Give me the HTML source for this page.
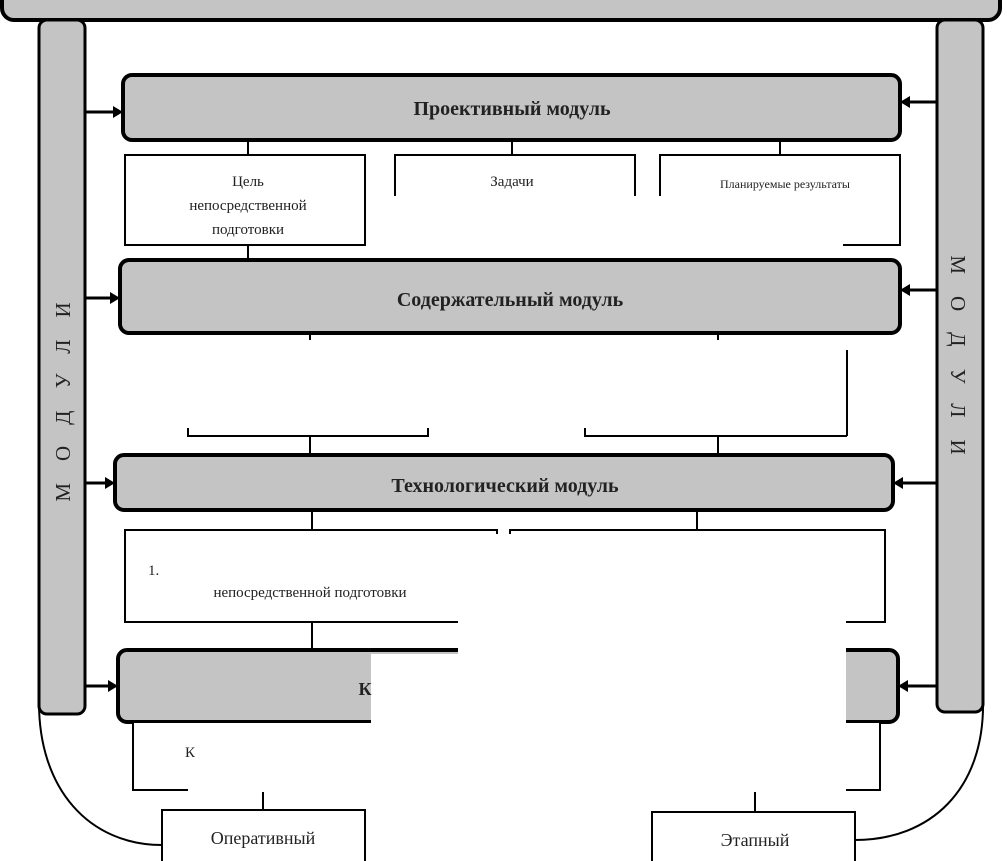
<!DOCTYPE html>
<html><head><meta charset="utf-8"><style>
body{margin:0;background:#fff;}
svg{display:block;font-family:"Liberation Serif",serif;}
</style></head><body>
<svg width="1007" height="861" viewBox="0 0 1007 861" xmlns="http://www.w3.org/2000/svg">
<g stroke="#000" fill="none">
<rect x="2" y="-30" width="998" height="50" rx="12" fill="#c4c4c4" stroke-width="4"/>
<rect x="39" y="20" width="46" height="694" rx="8" fill="#c4c4c4" stroke-width="3"/>
<rect x="937" y="20" width="46" height="692" rx="8" fill="#c4c4c4" stroke-width="3"/>
<path d="M39 700 C38 790 90 845 162 845" stroke-width="2"/>
<path d="M983 700 C985 790 930 840 855 840" stroke-width="2"/>
<g stroke-width="3">
<line x1="85" y1="112" x2="116" y2="112"/><line x1="937" y1="102" x2="907" y2="102"/>
<line x1="85" y1="298" x2="113" y2="298"/><line x1="937" y1="290" x2="907" y2="290"/>
<line x1="85" y1="483" x2="108" y2="483"/><line x1="937" y1="483" x2="900" y2="483"/>
<line x1="85" y1="686" x2="111" y2="686"/><line x1="937" y1="686" x2="905" y2="686"/>
</g>
<g fill="#000" stroke="none">
<polygon points="123,112 113,106 113,118"/><polygon points="900,102 910,96 910,108"/>
<polygon points="120,298 110,292 110,304"/><polygon points="900,290 910,284 910,296"/>
<polygon points="115,483 105,477 105,489"/><polygon points="893,483 903,477 903,489"/>
<polygon points="118,686 108,680 108,692"/><polygon points="898,686 908,680 908,692"/>
</g>
<g stroke-width="2">
<line x1="248" y1="140" x2="248" y2="155"/><line x1="512" y1="140" x2="512" y2="155"/><line x1="780" y1="140" x2="780" y2="155"/>
<line x1="248" y1="245" x2="248" y2="260"/>
<line x1="310" y1="333" x2="310" y2="340"/><line x1="718" y1="333" x2="718" y2="340"/>
<line x1="847" y1="350" x2="847" y2="436"/>
<polyline points="188,428 188,436 428,436 428,428"/>
<polyline points="585,428 585,436 847,436"/>
<line x1="310" y1="436" x2="310" y2="455"/><line x1="718" y1="436" x2="718" y2="455"/>
<line x1="312" y1="510" x2="312" y2="530"/><line x1="697" y1="510" x2="697" y2="530"/>
<line x1="312" y1="622" x2="312" y2="650"/>
<line x1="263" y1="790" x2="263" y2="810"/><line x1="755" y1="790" x2="755" y2="812"/>
</g>
<rect x="123" y="75" width="777" height="65" rx="9" fill="#c4c4c4" stroke-width="4"/>
<rect x="120" y="260" width="780" height="73" rx="9" fill="#c4c4c4" stroke-width="4"/>
<rect x="115" y="455" width="778" height="55" rx="9" fill="#c4c4c4" stroke-width="4"/>
<rect x="118" y="650" width="780" height="72" rx="9" fill="#c4c4c4" stroke-width="4"/>
<g fill="#fff" stroke-width="2">
<rect x="125" y="155" width="240" height="90"/>
<rect x="395" y="155" width="240" height="90"/>
<rect x="660" y="155" width="240" height="90"/>
<rect x="125" y="530" width="372" height="92"/>
<rect x="510" y="530" width="375" height="92"/>
<rect x="133" y="722" width="747" height="68"/>
<rect x="162" y="810" width="203" height="55"/>
<rect x="652" y="812" width="203" height="55"/>
</g>
</g>
<g fill="#fff">
<rect x="368" y="196" width="475" height="62"/>
<rect x="458" y="534" width="388" height="120"/>
<rect x="371" y="654" width="475" height="70"/>
<rect x="188" y="724" width="658" height="68"/>
</g>
<g font-size="20" font-weight="bold" text-anchor="middle" fill="#222">
<text x="512" y="115">Проективный модуль</text>
<text x="510" y="306">Содержательный модуль</text>
<text x="505" y="492">Технологический модуль</text>
</g>
<g font-size="15" text-anchor="middle" fill="#222">
<text x="248" y="186">Цель</text>
<text x="248" y="210">непосредственной</text>
<text x="248" y="234">подготовки</text>
<text x="512" y="186">Задачи</text>
<text x="785" y="188" font-size="12">Планируемые результаты</text>
<text x="310" y="597">непосредственной подготовки</text>
<text x="148" y="575" text-anchor="start">1.</text>
<text x="365" y="695" font-weight="bold" font-size="18">К</text>
<text x="185" y="757" text-anchor="start">К</text>
<text x="263" y="844" font-size="18">Оперативный</text>
<text x="755" y="846" font-size="18">Этапный</text>
</g>
<g font-size="21" fill="#222" text-anchor="middle" letter-spacing="22">
<text transform="translate(70,391) rotate(-90)">МОДУЛИ</text>
<text transform="translate(951,366) rotate(90)">МОДУЛИ</text>
</g>
</svg>
</body></html>
